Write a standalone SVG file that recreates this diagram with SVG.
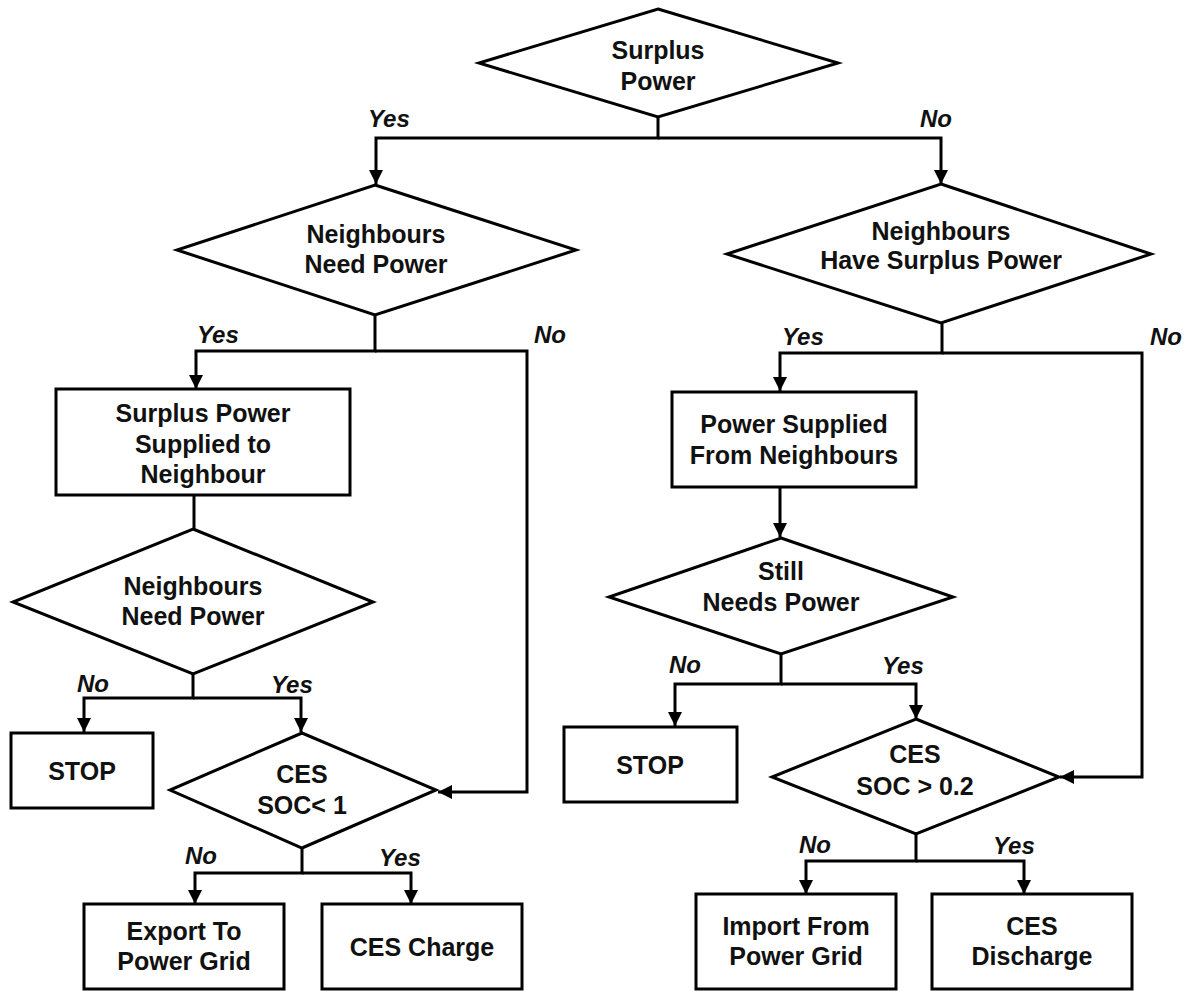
<svg xmlns="http://www.w3.org/2000/svg" width="1195" height="991" viewBox="0 0 1195 991">
<style>
.s{fill:#fff;stroke:#000;stroke-width:3}
.t{font-family:"Liberation Sans",Arial,sans-serif;font-weight:bold;font-size:25px;text-anchor:middle;fill:#111}
.l{font-family:"Liberation Sans",Arial,sans-serif;font-weight:bold;font-style:italic;font-size:24px;fill:#111}
.c{fill:none;stroke:#000;stroke-width:3;stroke-linejoin:miter}
</style>
<defs>
<marker id="ah" markerUnits="userSpaceOnUse" markerWidth="14" markerHeight="14" refX="14" refY="7" orient="auto">
<path d="M0,0 L14,7 L0,14 z" fill="#000"/>
</marker>
</defs>
<rect width="1195" height="991" fill="#fff"/>
<g id="connectors">
<path class="c" d="M658,117 V138 H376 V184" marker-end="url(#ah)"/>
<path class="c" d="M658,138 H941 V184" marker-end="url(#ah)"/>
<path class="c" d="M375,315 V351 H196 V389" marker-end="url(#ah)"/>
<path class="c" d="M375,351 H527 V792 H438" marker-end="url(#ah)"/>
<path class="c" d="M194,495 V529"/>
<path class="c" d="M193,674 V698 H84 V732" marker-end="url(#ah)"/>
<path class="c" d="M193,698 H301 V732" marker-end="url(#ah)"/>
<path class="c" d="M302,848 V873 H195 V904" marker-end="url(#ah)"/>
<path class="c" d="M302,873 H411 V904" marker-end="url(#ah)"/>
<path class="c" d="M942,323 V353 H780 V391" marker-end="url(#ah)"/>
<path class="c" d="M942,353 H1142 V777 H1060" marker-end="url(#ah)"/>
<path class="c" d="M780,487 V537" marker-end="url(#ah)"/>
<path class="c" d="M781,654 V684 H675 V726" marker-end="url(#ah)"/>
<path class="c" d="M781,684 H916 V719" marker-end="url(#ah)"/>
<path class="c" d="M916,834 V861 H806 V894" marker-end="url(#ah)"/>
<path class="c" d="M916,861 H1024 V894" marker-end="url(#ah)"/>
<text class="l" x="368" y="127">Yes</text>
<text class="l" x="920" y="127">No</text>
<text class="l" x="197" y="343">Yes</text>
<text class="l" x="534" y="343">No</text>
<text class="l" x="782" y="345">Yes</text>
<text class="l" x="1150" y="345">No</text>
<text class="l" x="77" y="692">No</text>
<text class="l" x="271" y="693">Yes</text>
<text class="l" x="185" y="864">No</text>
<text class="l" x="379" y="866">Yes</text>
<text class="l" x="669" y="673">No</text>
<text class="l" x="882" y="674">Yes</text>
<text class="l" x="799" y="853">No</text>
<text class="l" x="993" y="854">Yes</text>
</g>
<g id="surplus-power">
<polygon class="s" points="658,9 838,63 658,117 479,63"/>
<text class="t" x="658" y="59">Surplus</text>
<text class="t" x="658" y="90">Power</text>
</g>
<g id="neighbours-need-power-1">
<polygon class="s" points="375,185 576,250 375,315 177,250"/>
<text class="t" x="376" y="243">Neighbours</text>
<text class="t" x="376" y="273">Need Power</text>
</g>
<g id="neighbours-have-surplus">
<polygon class="s" points="941,184 1151,254 941,323 727,254"/>
<text class="t" x="941" y="240">Neighbours</text>
<text class="t" x="941" y="269">Have Surplus Power</text>
</g>
<g id="surplus-supplied">
<rect class="s" x="56" y="389" width="294" height="106"/>
<text class="t" x="203" y="422">Surplus Power</text>
<text class="t" x="203" y="453">Supplied to</text>
<text class="t" x="203" y="483">Neighbour</text>
</g>
<g id="neighbours-need-power-2">
<polygon class="s" points="193,529 373,602 193,674 13,602"/>
<text class="t" x="193" y="595">Neighbours</text>
<text class="t" x="193" y="625">Need Power</text>
</g>
<g id="stop-left">
<rect class="s" x="11" y="733" width="142" height="75"/>
<text class="t" x="82" y="780">STOP</text>
</g>
<g id="ces-soc-1">
<polygon class="s" points="302,733 436,790 302,848 170,790"/>
<text class="t" x="302" y="783">CES</text>
<text class="t" x="302" y="814">SOC&lt; 1</text>
</g>
<g id="export-grid">
<rect class="s" x="84" y="904" width="200" height="85"/>
<text class="t" x="184" y="940">Export To</text>
<text class="t" x="184" y="970">Power Grid</text>
</g>
<g id="ces-charge">
<rect class="s" x="322" y="904" width="200" height="85"/>
<text class="t" x="422" y="956">CES Charge</text>
</g>
<g id="power-from-neighbours">
<rect class="s" x="672" y="392" width="244" height="95"/>
<text class="t" x="794" y="433">Power Supplied</text>
<text class="t" x="794" y="464">From Neighbours</text>
</g>
<g id="still-needs-power">
<polygon class="s" points="781,538 953,597 781,654 609,597"/>
<text class="t" x="781" y="580">Still</text>
<text class="t" x="781" y="611">Needs Power</text>
</g>
<g id="stop-right">
<rect class="s" x="564" y="727" width="173" height="75"/>
<text class="t" x="650" y="774">STOP</text>
</g>
<g id="ces-soc-02">
<polygon class="s" points="916,719 1059,777 916,834 772,777"/>
<text class="t" x="915" y="763">CES</text>
<text class="t" x="915" y="795">SOC &gt; 0.2</text>
</g>
<g id="import-grid">
<rect class="s" x="696" y="894" width="200" height="95"/>
<text class="t" x="796" y="935">Import From</text>
<text class="t" x="796" y="965">Power Grid</text>
</g>
<g id="ces-discharge">
<rect class="s" x="932" y="894" width="200" height="95"/>
<text class="t" x="1032" y="935">CES</text>
<text class="t" x="1032" y="965">Discharge</text>
</g>
</svg>
